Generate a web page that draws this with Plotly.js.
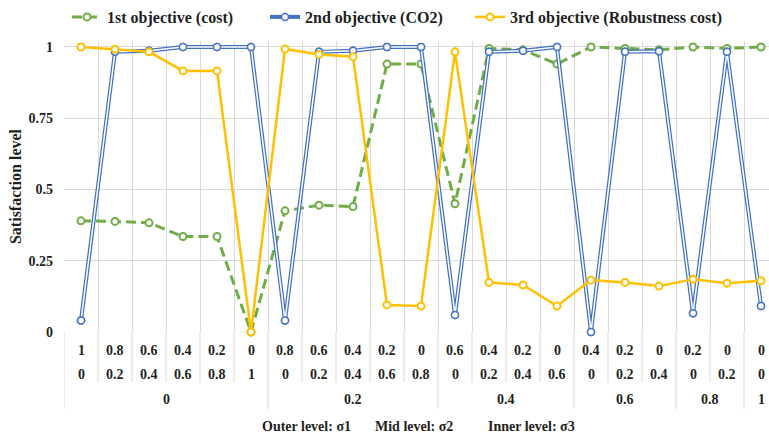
<!DOCTYPE html>
<html>
<head>
<meta charset="utf-8">
<script src="https://cdn.plot.ly/plotly-3.0.1.min.js"></script>
<style>html,body{margin:0;padding:0;background:#fff;overflow:hidden}</style>
</head>
<body>
<div id="chart" style="width:769px;height:443px"></div>
<script>
const sigma3 = ["1","0.8","0.6","0.4","0.2","0","0.8","0.6","0.4","0.2","0","0.6","0.4","0.2","0","0.4","0.2","0","0.2","0","0"];
const sigma2 = ["0","0.2","0.4","0.6","0.8","1","0","0.2","0.4","0.6","0.8","0","0.2","0.4","0.6","0","0.2","0.4","0","0.2","0"];
const sigma1 = ["0","0","0","0","0","0","0.2","0.2","0.2","0.2","0.2","0.4","0.4","0.4","0.4","0.6","0.6","0.6","0.8","0.8","1"];

const costSat = [0.39,0.388,0.383,0.335,0.335,0, 0.425,0.445,0.44,0.94,0.94, 0.45,0.995,0.99,0.94, 1.0,0.995,0.99, 1.0,0.995, 1.0];
const co2Sat = [0.04,0.983,0.987,1.0,1.0,1.0, 0.04,0.983,0.987,1.0,1.0, 0.06,0.983,0.987,1.0, 0.0,0.983,0.985, 0.066,0.983, 0.091];
const robustSat = [1.0,0.992,0.983,0.916,0.916,0, 0.993,0.974,0.966,0.095,0.091, 0.983,0.174,0.165,0.091, 0.182,0.174,0.161, 0.185,0.171, 0.18];

const seriesNames = ["1st objective (cost)", "2nd objective (CO2)", "3rd objective (Robustness cost)"];
const levelNames = ["Outer level: σ1", "Mid level: σ2", "Inner level: σ3"];
const yTicks = [0, 0.25, 0.5, 0.75, 1];

const GREEN = "#70AD47", BLUE = "#4472C4", GOLD = "#FFC000";
const TXT = "#1f1f1f", GRID = "#d9d9d9";
const FONT = "'Liberation Serif', 'DejaVu Serif', serif";

const idx = sigma3.map((_, i) => i);

const traces = [
  {x: idx, y: costSat, name: seriesNames[0], legend: "legend", type: "scatter", mode: "lines+markers", cliponaxis: false,
   line: {color: GREEN, width: 3, dash: "10px,5px"},
   marker: {symbol: "circle", size: 7, color: "#fff", line: {color: GREEN, width: 2}}},
  {x: idx, y: co2Sat, name: seriesNames[1], legend: "legend2", type: "scatter", mode: "lines+markers", cliponaxis: false,
   line: {color: BLUE, width: 4},
   marker: {symbol: "circle", size: 7, color: "#fff", line: {color: BLUE, width: 1.5}}},
  {x: idx, y: co2Sat, type: "scatter", mode: "lines", showlegend: false, hoverinfo: "skip", cliponaxis: false,
   line: {color: "#fff", width: 1.5}},
  {x: idx, y: co2Sat, type: "scatter", mode: "markers", showlegend: false, hoverinfo: "skip", cliponaxis: false,
   marker: {symbol: "circle", size: 7, color: "#fff", line: {color: BLUE, width: 1.5}}},
  {x: idx, y: robustSat, name: seriesNames[2], legend: "legend3", type: "scatter", mode: "lines+markers", cliponaxis: false,
   line: {color: GOLD, width: 2.5},
   marker: {symbol: "circle", size: 7, color: "#fff", line: {color: GOLD, width: 2}}}
];

const plotTop = 41, plotBottom = 332, plotH = plotBottom - plotTop;
const py = p => (plotBottom - p) / plotH;

const annotations = [];
const shapes = [];
const lblFont = {family: FONT, size: 14, color: TXT, weight: "bold"};
idx.forEach(i => {
  annotations.push({x: i, y: py(350), xref: "x", yref: "paper", text: sigma3[i], showarrow: false, font: lblFont, xanchor: "center", yanchor: "middle"});
  annotations.push({x: i, y: py(374), xref: "x", yref: "paper", text: sigma2[i], showarrow: false, font: lblFont, xanchor: "center", yanchor: "middle"});
});
let start = 0;
const bounds = [-0.5];
for (let i = 1; i <= sigma1.length; i++) {
  if (i === sigma1.length || sigma1[i] !== sigma1[start]) {
    annotations.push({x: (start + i - 1) / 2, y: py(399), xref: "x", yref: "paper", text: sigma1[start], showarrow: false, font: lblFont, xanchor: "center", yanchor: "middle"});
    bounds.push(i - 0.5);
    start = i;
  }
}
for (let b = -0.5; b <= sigma3.length - 0.5; b += 1) {
  const isGroup = bounds.includes(b);
  shapes.push({type: "line", xref: "x", yref: "paper", x0: b, x1: b, y0: 0, y1: isGroup ? py(409) : py(382),
    line: {color: GRID, width: 1}});
}
const legendX = [306, 414, 531];
levelNames.forEach((t, k) => {
  annotations.push({x: (legendX[k] - 64) / 705, y: py(426), xref: "paper", yref: "paper", text: t, showarrow: false,
    font: lblFont, xanchor: "center", yanchor: "middle"});
});

const legFont = {family: FONT, size: 16, color: TXT, weight: "bold"};
const legBase = {orientation: "h", xref: "container", yref: "container", y: 1, xanchor: "left", yanchor: "top", font: legFont, bgcolor: "rgba(0,0,0,0)"};

const layout = {
  width: 769, height: 443,
  margin: {l: 64, r: 0, t: plotTop, b: 443 - plotBottom},
  paper_bgcolor: "#fff", plot_bgcolor: "#fff",
  font: {family: FONT, color: TXT},
  showlegend: true,
  legend: Object.assign({}, legBase, {x: 67 / 769}),
  legend2: Object.assign({}, legBase, {x: 265 / 769}),
  legend3: Object.assign({}, legBase, {x: 470 / 769}),
  xaxis: {range: [-0.5, 20.235], tickvals: idx, showticklabels: false, showgrid: false, zeroline: false, ticks: "",
    showline: false, fixedrange: true,
    minor: {tickmode: "linear", tick0: -0.5, dtick: 1, showgrid: true, gridcolor: GRID, gridwidth: 1, ticks: ""}},
  yaxis: {range: [0, 1.021], tickvals: yTicks, ticktext: yTicks.map(String), gridcolor: GRID, gridwidth: 1, zeroline: false,
    showline: false, ticks: "", ticklabelstandoff: 10, tickfont: {family: FONT, size: 14, color: TXT, weight: "bold"},
    title: {text: "Satisfaction level", font: {family: FONT, size: 16, color: TXT, weight: "bold"}, standoff: 2}},
  annotations: annotations,
  shapes: shapes
};

Plotly.newPlot("chart", traces, layout, {displayModeBar: false, staticPlot: true});
</script>
</body>
</html>
